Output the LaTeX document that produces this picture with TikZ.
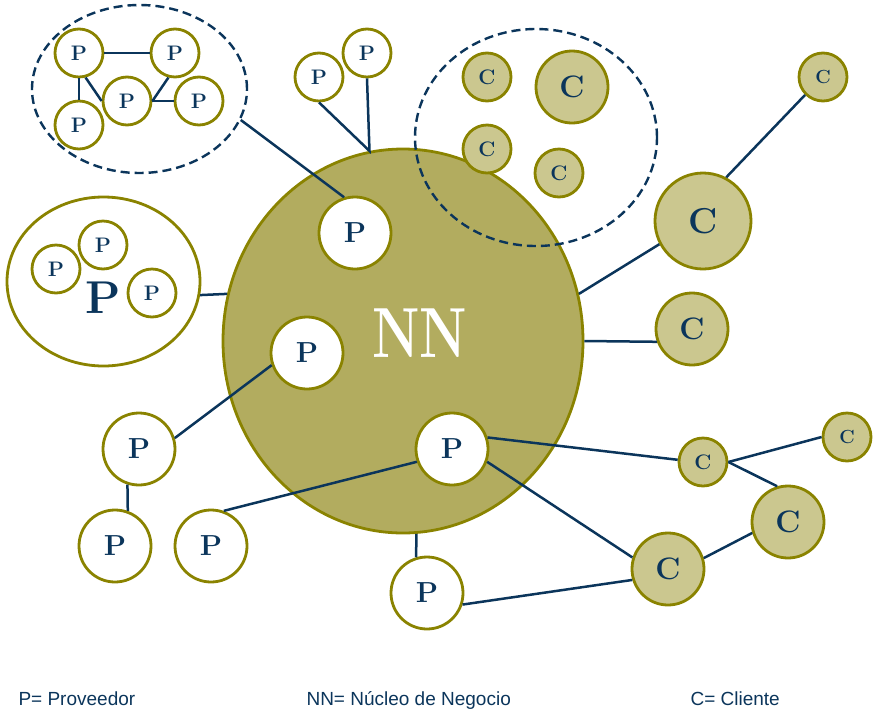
\documentclass[tikz,border=0pt]{standalone}
\usepackage{fontspec}
\newfontfamily\leyenda{Liberation Sans}
\usetikzlibrary{shapes.geometric}

\definecolor{oliva}{RGB}{138,131,0}
\definecolor{olivaNN}{RGB}{178,172,95}
\definecolor{olivaC}{RGB}{203,199,143}
\definecolor{marino}{RGB}{11,53,91}

\begin{document}
\begin{tikzpicture}[x=1pt, y=-1pt]

\tikzset{
  nodo/.style={circle, draw=oliva, line width=2.8pt, inner sep=0pt, text=marino},
  provS/.style={nodo, fill=white, minimum size=48pt, font=\fontsize{21}{21}\selectfont\bfseries},
  provL/.style={nodo, fill=white, minimum size=72pt, font=\fontsize{29}{29}\selectfont\bfseries},
  cliS/.style={nodo, fill=olivaC, minimum size=48pt, font=\fontsize{21}{21}\selectfont\bfseries},
  cliM/.style={nodo, fill=olivaC, minimum size=72pt, font=\fontsize{31}{31}\selectfont\bfseries},
  cliL/.style={nodo, fill=olivaC, minimum size=96pt, font=\fontsize{36}{36}\selectfont\bfseries},
  grupo/.style={ellipse, draw=marino, dash pattern=on 9pt off 5pt, line width=2.4pt, inner sep=0pt},
  lin/.style={draw=marino, line width=2.5pt}
}

\useasboundingbox (0,0) rectangle (873,713);

% --- Nucleo de negocio ---
\node[ellipse, draw=oliva, fill=olivaNN, line width=2.8pt, minimum width=360pt, minimum height=384pt] (NN) at (403,341) {};
\node[text=white] (NNt) at (419.5,333) {\scalebox{0.76}[1]{\fontsize{71}{71}\selectfont\bfseries NN}};

% --- Grupo de proveedores (arriba izquierda) ---
\node[grupo, minimum width=215pt, minimum height=168pt] (G1) at (139.5,89) {};
\node[provS] (P1) at (79,53) {P};
\node[provS] (P2) at (175,53) {P};
\node[provS] (P3) at (127,101) {P};
\node[provS] (P4) at (199,101) {P};
\node[provS] (P5) at (79,125) {P};

% --- Pareja de proveedores (arriba) ---
\node[provS] (Pt1) at (319,77) {P};
\node[provS] (Pt2) at (367,53) {P};
\coordinate (J) at (NN.100);

% --- Proveedores agrupados (izquierda) ---
\node[ellipse, draw=oliva, line width=2.8pt, minimum width=193pt, minimum height=169pt] (G2) at (103.5,281.5) {};
\node[provS] (Pi1) at (56,269) {P};
\node[provS] (Pi2) at (103,245) {P};
\node[provS] (Pi3) at (152,293) {P};
\node[text=marino, font=\fontsize{46}{46}\selectfont\bfseries] (Pgr) at (103,298) {P};

% --- Proveedores sueltos ---
\node[provL] (Pa) at (355,233) {P};
\node[provL] (Pb) at (307,353) {P};
\node[provL] (Pc) at (139,449) {P};
\node[provL] (Pd) at (115,546) {P};
\node[provL] (Pf) at (211,546) {P};
\node[provL] (Pe) at (452,449) {P};
\node[provL] (Pg) at (427,593) {P};

% --- Grupo de clientes (punteado) ---
\node[grupo, minimum width=242pt, minimum height=217pt] (G3) at (536,137.5) {};
\node[cliS] (C1) at (487,77) {C};
\node[cliM] (C2) at (572,87) {C};
\node[cliS] (C3) at (487,149) {C};
\node[cliS] (C4) at (559,173) {C};

% --- Clientes sueltos ---
\node[cliS, font=\fontsize{19}{19}\selectfont\bfseries] (Ct) at (823,77) {C};
\node[cliL] (Cb) at (703,221) {C};
\node[cliM] (Cm) at (692,329) {C};
\node[cliS] (Cs) at (703,462) {C};
\node[cliS, font=\fontsize{19}{19}\selectfont\bfseries] (Cr) at (847,437) {C};
\node[cliM] (Cg) at (788,522) {C};
\node[cliM] (Cd) at (668,569) {C};

% --- Conexiones ---
\draw[lin] (P1) -- (P2);
\draw[lin] (P1) -- (P5);
\draw[lin] (P1.-75) -- (P3.west);
\draw[lin] (P2.-105) -- (P3.east);
\draw[lin] (P3.east) -- (P4.west);

\draw[lin] (G1.-17) -- (Pa.107);
\draw[lin] (Pt1.south) -- (J) -- (Pt2.south);
\draw[lin] (G2.-8) -- (NN.165);

\draw[lin] (Pb.199) -- (Pc.17);
\draw[lin] (Pc.-108) -- (Pd.70);
\draw[lin] (Pe.200) -- (Pf.70);
\draw[lin] (NN.-86) -- (Pg.107);

\draw[lin] (NN.15) -- (Cb.208);
\draw[lin] (Cb.62) -- (Ct.225);
\draw[lin] (NN.east) -- (Cm.200);

\draw[lin] (Pe.18) -- (Cs.175);
\draw[lin] (Pe.-20) -- (Cd.162);
\draw[lin] (Pg.-18) -- (Cd.197);
\draw[lin] (Cs.east) -- (Cr.180);
\draw[lin] (Cs.east) -- (Cg.107);
\draw[lin] (Cg.197) -- (Cd.17);

% --- Leyenda ---
\node[anchor=base west, text=marino, font=\leyenda\fontsize{19}{19}\selectfont] (LP) at (15,705) {P= Proveedor};
\node[anchor=base west, text=marino, font=\leyenda\fontsize{19}{19}\selectfont] (LN) at (303,705) {NN= Núcleo de Negocio};
\node[anchor=base west, text=marino, font=\leyenda\fontsize{19}{19}\selectfont] (LC) at (687,705) {C= Cliente};

\end{tikzpicture}
\end{document}
